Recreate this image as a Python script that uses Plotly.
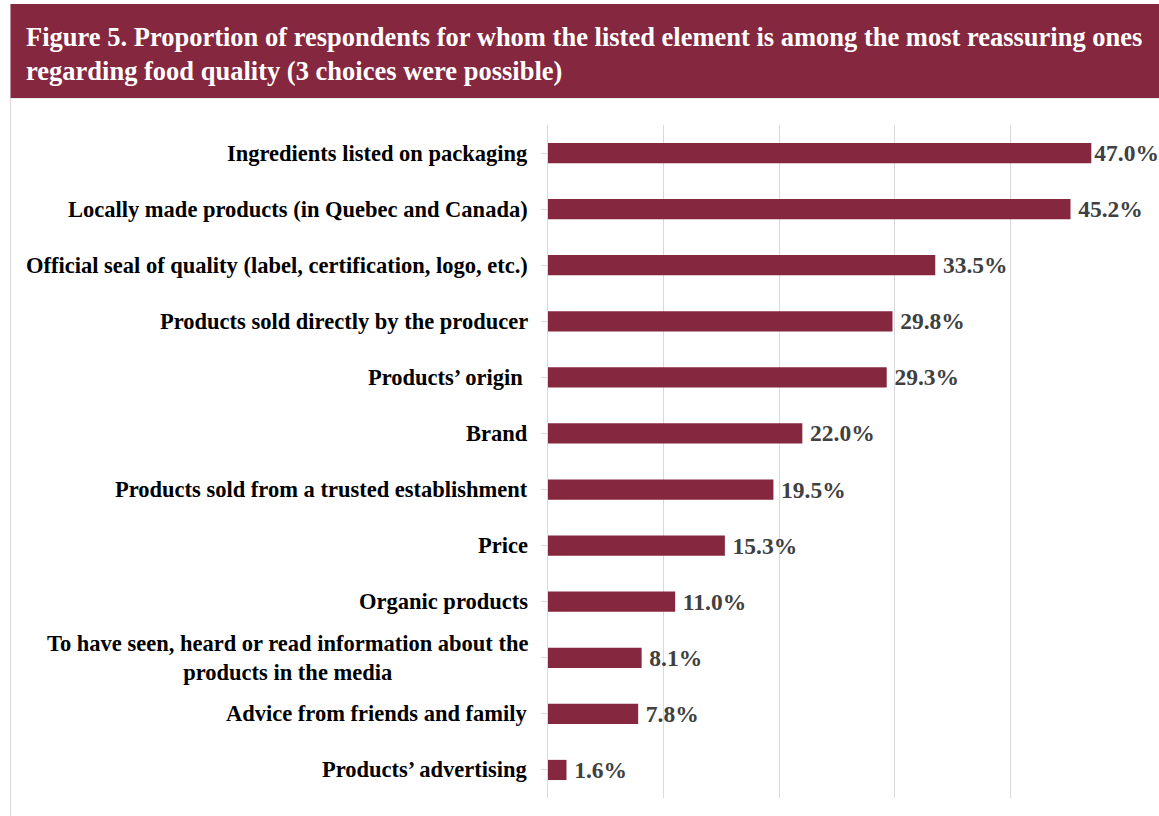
import plotly.graph_objects as go

categories = [
    "Ingredients listed on packaging",
    "Locally made products (in Quebec and Canada)",
    "Official seal of quality (label, certification, logo, etc.)",
    "Products sold directly by the producer",
    "Products\u2019 origin\u00a0",
    "Brand",
    "Products sold from a trusted establishment",
    "Price",
    "Organic products",
    "To have seen, heard or read information about the<br>products in the media",
    "Advice from friends and family",
    "Products\u2019 advertising",
]
values = [47.0, 45.2, 33.5, 29.8, 29.3, 22.0, 19.5, 15.3, 11.0, 8.1, 7.8, 1.6]
value_labels = [f"{v:.1f}%" for v in values]
title_lines = [
    "Figure 5. Proportion of respondents for whom the listed element is among the most reassuring ones",
    "regarding food quality (3 choices were possible)",
]

W, H = 1159, 816
L, R, T, B = 548, 1126.5, 125, 798
BAR = "#85273F"
SERIF = "Times New Roman, Liberation Serif, serif"

def px_x(p):
    return (p - L) / (R - L)

def px_y(p):
    return (B - p) / (B - T)

# small gap before the value label, except where it would run past the page edge
shown_labels = [("" if i == 0 else "\u2009") + t for i, t in enumerate(value_labels)]

fig = go.Figure()
fig.add_trace(go.Bar(
    x=values, y=list(range(len(categories))), orientation="h",
    marker=dict(color=BAR, line=dict(width=0)),
    width=0.36,
    text=shown_labels, textposition="outside", cliponaxis=False,
    textfont=dict(family=SERIF, size=23.5, color="#404040", weight="bold"),
    constraintext="none",
    hoverinfo="skip",
))

annotations = []
for i, c in enumerate(categories):
    annotations.append(dict(
        x=px_x(530), xref="paper", y=i, yref="y", xanchor="right", yanchor="middle",
        text=f"<b>{c}</b>", showarrow=False, align="center",
        font=dict(family=SERIF, size=22.5, color="#000000"),
    ))
for k, line in enumerate(title_lines):
    annotations.append(dict(
        x=px_x(24), xref="paper", y=px_y(37 + 34 * k), yref="paper",
        xanchor="left", yanchor="middle", text=f"<b>{line}</b>", showarrow=False,
        align="left", font=dict(family=SERIF, size=26.5, color="#ffffff"),
    ))

shapes = [
    dict(type="rect", xref="paper", yref="paper", x0=px_x(10), x1=px_x(1170),
         y0=px_y(98), y1=px_y(830), line=dict(color="#d9d9d9", width=1), fillcolor="rgba(0,0,0,0)", layer="below"),
    dict(type="rect", xref="paper", yref="paper", x0=px_x(10), x1=px_x(1170),
         y0=px_y(4), y1=px_y(98), line=dict(width=0), fillcolor=BAR, layer="above"),
]

fig.update_layout(
    width=W, height=H,
    margin=dict(l=L, r=W - R, t=T, b=H - B, pad=0),
    paper_bgcolor="white", plot_bgcolor="white",
    showlegend=False,
    annotations=annotations, shapes=shapes,
    xaxis=dict(range=[0, 50], tickvals=[0, 10, 20, 30, 40, 50], showticklabels=False,
               showgrid=True, gridcolor="#d9d9d9", gridwidth=1, zeroline=False,
               showline=False, fixedrange=True),
    yaxis=dict(range=[len(categories) - 0.5, -0.5], tickmode="array",
               tickvals=list(range(len(categories))), showticklabels=False,
               tickson="boundaries", ticks="outside", ticklen=6, tickcolor="#d9d9d9",
               showline=True, linecolor="#d9d9d9", linewidth=1, showgrid=False,
               zeroline=False, fixedrange=True),
)

fig.write_html("out.html", config={"displayModeBar": False})
